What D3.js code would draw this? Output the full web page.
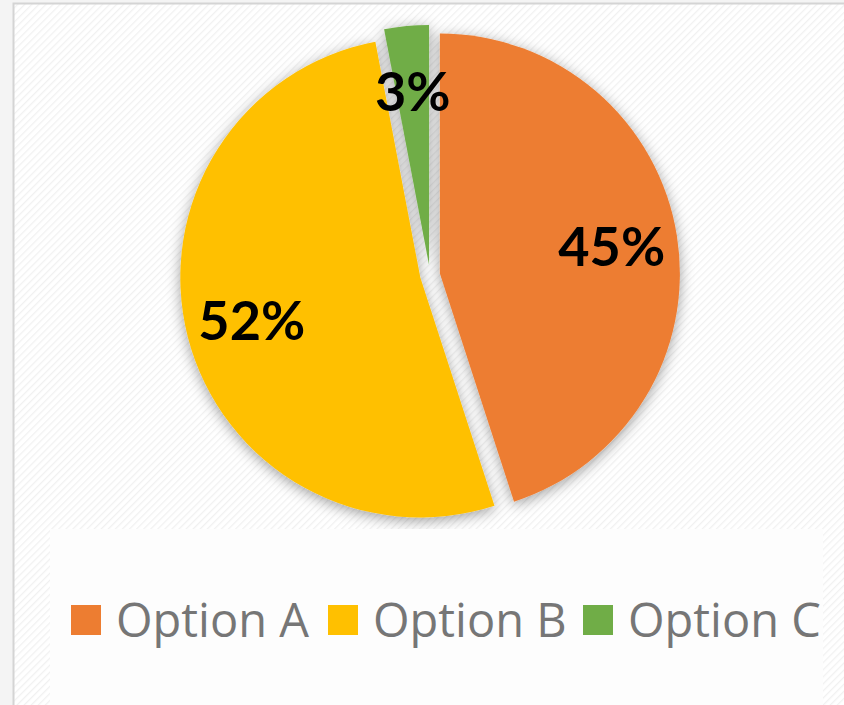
<!DOCTYPE html>
<html>
<head>
<meta charset="utf-8">
<script src="https://cdn.jsdelivr.net/npm/d3@7"></script>
<style>
  html, body { margin: 0; padding: 0; background: #f4f4f4; }
  svg { display: block; }
</style>
</head>
<body>
<div id="chart"></div>
<script>
let categorias = ["Option A", "Option B", "Option C"];
let valores = [45, 52, 3];
let colores = ["#ED7D31", "#FFC000", "#70AD47"];
let etiquetas = ["45%", "52%", "3%"];

let width = 844, height = 705;
let cx = 430, cy = 275, radio = 240, salto = 10;

let svg = d3.select("#chart")
    .append("svg")
    .attr("width", width)
    .attr("height", height);

let defs = svg.append("defs");

// rayado diagonal del fondo
let patron = defs.append("pattern")
    .attr("id", "rayas")
    .attr("width", 5)
    .attr("height", 5)
    .attr("patternUnits", "userSpaceOnUse")
    .attr("patternTransform", "rotate(45)");
patron.append("rect").attr("width", 5).attr("height", 5).attr("fill", "#ffffff");
patron.append("line")
    .attr("x1", 0).attr("y1", 0).attr("x2", 0).attr("y2", 5)
    .attr("stroke", "#f1f1f1").attr("stroke-width", 2.5);

let sombra = defs.append("filter")
    .attr("id", "sombra")
    .attr("x", "-20%").attr("y", "-20%")
    .attr("width", "140%").attr("height", "140%");
sombra.append("feDropShadow")
    .attr("dx", 0).attr("dy", 3)
    .attr("stdDeviation", 7)
    .attr("flood-color", "#000")
    .attr("flood-opacity", 0.38);

// marco del grafico
svg.append("rect")
    .attr("x", 13.5).attr("y", 3.5)
    .attr("width", width + 10).attr("height", height + 10)
    .attr("fill", "url(#rayas)")
    .attr("stroke", "#d4d4d4")
    .attr("stroke-width", 2);

let pie = d3.pie().sort(null).value(d => d);
let arcos = pie(valores);

let arc = d3.arc().innerRadius(0).outerRadius(radio);
let arcEtiqueta = d3.arc().innerRadius(174).outerRadius(174);

function desplazar(d) {
    let a = (d.startAngle + d.endAngle) / 2;
    return [Math.sin(a) * salto, -Math.cos(a) * salto];
}

let g = svg.append("g")
    .attr("transform", "translate(" + cx + "," + cy + ")");

g.append("g")
    .attr("filter", "url(#sombra)")
    .selectAll("path")
    .data(arcos)
    .enter()
    .append("path")
    .attr("transform", d => "translate(" + desplazar(d) + ")")
    .attr("d", arc)
    .attr("fill", (d, i) => colores[i]);

g.append("g")
    .selectAll("text")
    .data(arcos)
    .enter()
    .append("text")
    .attr("transform", function (d) {
        let o = desplazar(d);
        let c = arcEtiqueta.centroid(d);
        return "translate(" + (c[0] + o[0]) + "," + (c[1] + o[1]) + ")";
    })
    .attr("text-anchor", "middle")
    .attr("dy", "0.36em")
    .style("font-family", "Lato, 'Open Sans', sans-serif")
    .style("font-weight", "bold")
    .style("font-size", "54px")
    .style("fill", "#000")
    .text((d, i) => etiquetas[i]);

// leyenda
svg.append("rect")
    .attr("x", 50).attr("y", 529)
    .attr("width", 773).attr("height", 180)
    .attr("fill", "#fdfdfd");

let posLeyenda = [71, 328, 583];

let leyenda = svg.append("g")
    .selectAll("g")
    .data(categorias)
    .enter()
    .append("g")
    .attr("transform", (d, i) => "translate(" + posLeyenda[i] + ",605)");

leyenda.append("rect")
    .attr("width", 30).attr("height", 30)
    .attr("fill", (d, i) => colores[i]);

leyenda.append("text")
    .attr("x", 45)
    .attr("y", 32)
    .style("font-family", "'Open Sans', sans-serif")
    .style("font-size", "47px")
    .style("fill", "#767676")
    .text(d => d);
</script>
</body>
</html>
